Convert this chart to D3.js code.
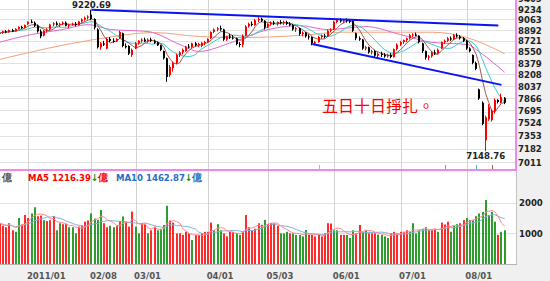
<!DOCTYPE html>
<html>
<head>
<meta charset="utf-8">
<script src="https://cdn.jsdelivr.net/npm/d3@7"></script>
<style>
  body { margin: 0; background: #fff; }
</style>
</head>
<body>
<div id="chart"></div>
<script>
// daily candles (TAIEX, 2010/12 - 2011/08)
const opens = [8830,8845,8870,8855,8890,8870,8910,8940,8925,8990,
  9025,9010,8960,8870,8800,8880,8900,8980,9000,8975,
  8990,9010,8960,8980,8990,8970,9030,9060,9090,9140,
  9070,8900,8620,8680,8600,8750,8720,8710,8760,8840,
  8640,8640,8500,8600,8680,8720,8740,8710,8740,8720,
  8700,8650,8560,8450,8200,8300,8380,8500,8540,8560,
  8630,8620,8680,8650,8640,8690,8700,8760,8860,8900,
  8920,8900,8740,8790,8770,8760,8670,8660,8800,8950,
  8990,8970,9050,9070,9040,8930,8990,9010,8990,9020,
  9000,9020,8990,8970,8900,8920,8830,8850,8790,8780,
  8680,8700,8780,8800,8790,8880,8900,9020,9050,9030,
  9050,9040,9040,8840,8760,8740,8600,8620,8540,8560,
  8490,8520,8500,8480,8500,8470,8590,8660,8700,8730,
  8760,8810,8820,8800,8680,8560,8460,8480,8540,8520,
  8600,8700,8720,8760,8740,8810,8790,8760,8720,8600,
  8500,8380,7990,7800,7290,7570,7560,7680,7840,7800,7870];
const highs = [8860,8880,8890,8900,8910,8920,8950,8960,8980,9030,
  9060,9030,8980,8900,8890,8920,8990,9020,9030,9010,
  9030,9030,8990,9010,9020,9040,9080,9110,9130,9220.69,
  9080,8920,8700,8720,8770,8780,8760,8760,8880,8850,
  8680,8650,8600,8700,8730,8760,8770,8760,8770,8740,
  8710,8660,8570,8460,8350,8400,8520,8560,8600,8640,
  8670,8690,8700,8690,8700,8720,8760,8870,8920,8940,
  8960,8910,8800,8830,8810,8770,8700,8820,8970,9010,
  9030,9070,9100,9090,9050,9000,9030,9040,9030,9050,
  9040,9040,9020,8990,8940,8930,8870,8860,8820,8790,
  8720,8800,8820,8830,8900,8920,9040,9070,9080,9070,
  9080,9070,9060,8850,8790,8750,8640,8630,8580,8580,
  8540,8550,8530,8520,8530,8600,8680,8720,8740,8770,
  8830,8840,8850,8810,8690,8570,8500,8560,8580,8600,
  8710,8740,8780,8790,8830,8840,8810,8780,8730,8620,
  8510,8400,8000,7820,7620,7780,7710,7860,7850,7930,7880];
const lows = [8800,8830,8840,8850,8860,8865,8900,8910,8920,8970,
  9000,8940,8850,8760,8790,8850,8890,8950,8960,8940,
  8970,8950,8920,8960,8950,8960,9010,9040,9060,9050,
  8900,8600,8580,8640,8590,8700,8690,8700,8750,8620,
  8600,8500,8470,8590,8660,8690,8700,8690,8700,8670,
  8640,8560,8430,8100,8170,8250,8360,8470,8510,8550,
  8600,8610,8630,8620,8620,8650,8690,8750,8840,8870,
  8880,8720,8720,8750,8740,8650,8620,8620,8790,8930,
  8950,8960,9020,9020,8900,8920,8960,8970,8960,8980,
  8970,8970,8950,8880,8860,8800,8790,8770,8740,8650,
  8650,8690,8750,8760,8780,8860,8890,9000,9010,9000,
  9010,9000,8860,8730,8720,8580,8570,8520,8510,8470,
  8460,8470,8460,8460,8450,8460,8570,8640,8670,8700,
  8740,8780,8790,8680,8530,8430,8420,8460,8500,8510,
  8590,8670,8700,8720,8730,8770,8740,8700,8580,8540,
  8360,8270,7840,7490,7148.76,7550,7540,7650,7790,7790,7780];
const closes = [8845,8870,8855,8890,8870,8910,8940,8925,8972,9025,
  9010,8960,8870,8790,8880,8900,8980,9000,8975,8990,
  9010,8960,8980,8990,8970,9030,9060,9090,9110,9070,
  8930,8620,8680,8660,8750,8720,8710,8750,8860,8640,
  8620,8520,8580,8680,8720,8740,8710,8740,8720,8690,
  8650,8580,8450,8170,8320,8380,8500,8540,8580,8630,
  8620,8680,8650,8670,8690,8700,8750,8860,8900,8920,
  8900,8740,8790,8770,8760,8670,8660,8800,8950,8990,
  8970,9050,9070,9040,8930,8990,9010,8990,9020,9000,
  9020,8990,8970,8900,8920,8830,8850,8790,8780,8680,
  8700,8780,8800,8790,8880,8900,9020,9050,9030,9050,
  9040,9030,8880,8760,8740,8600,8620,8540,8560,8490,
  8520,8500,8480,8500,8470,8590,8660,8700,8730,8760,
  8810,8820,8800,8700,8560,8460,8480,8540,8520,8580,
  8700,8720,8760,8740,8810,8790,8760,8720,8600,8560,
  8380,8290,7860,7510,7600,7740,7690,7840,7810,7880,7800];

// volume in 億, and whether the bar is drawn red (1) or green (0)
const volumes = [1330,1250,1200,1330,1100,1050,1500,1290,1600,1500,
  1650,1850,1560,1580,1430,1400,1430,1560,1100,1330,
  1300,1300,1200,1200,1000,1220,1250,1380,1420,1650,
  1480,1440,1760,1330,1200,1250,1200,1250,1400,1550,
  1380,1220,1710,1220,1000,1330,1300,1000,1100,1220,
  1100,1150,1270,1900,1420,1350,1000,1000,950,1050,
  1000,780,950,950,1000,1050,1050,1350,1100,1300,
  1100,1000,900,1050,1050,1000,950,1050,1600,1200,
  1100,1150,1330,1280,1440,1300,1330,1330,1250,1000,
  1000,1050,1000,1000,950,950,900,1110,950,950,
  900,950,900,1000,1330,1320,1100,1100,950,950,
  950,850,1100,1000,1275,1050,1100,1000,1000,1000,
  960,950,900,850,1000,1050,1000,1050,1050,1100,
  1050,1330,1000,1100,1150,1200,1100,1100,1150,1050,
  1350,1290,1380,1050,1250,1300,1330,1430,1500,1440,
  1440,1560,1650,1700,2090,1600,1700,1380,950,1050,1100];
const volUp = [1,1,1,1,1,0,0,1,1,1, 0,0,1,1,0,1,1,1,0,0,
  1,1,0,0,0,1,1,1,1,0, 0,0,0,1,1,0,0,1,1,0,
  1,1,1,0,0,1,1,0,1,1, 0,0,0,0,1,1,1,1,1,1,
  1,0,1,1,1,1,1,1,0,0, 0,1,1,1,1,0,0,1,1,1,
  1,1,1,0,0,1,1,1,1,0, 0,0,1,0,0,0,0,0,1,1,
  1,1,1,1,1,1,0,0,1,1, 0,0,0,1,1,0,0,1,1,1,
  0,0,0,0,1,1,1,1,1,1, 0,0,0,0,0,0,1,1,1,0,
  1,1,1,0,0,0,1,1,0,0, 0,0,0,0,0,0,0,0,1,0,0];

// longer averages: [day index, value]
const ma20Points = [[0,8700],[10,8820],[20,8900],[28,8978],[35,8900],[47,8866],[57,8663],[63,8555],
  [74,8705],[85,8898],[95,8962],[104,8898],[116,8946],[127,8819],[137,8695],[148,8663],[153,8510],[160,8240]];
const ma60Points = [[0,8434],[30,8741],[49,8850],[63,8788],[76,8772],[95,8804],[108,8856],[127,8856],
  [137,8856],[148,8772],[160,8520]];

// axis labels
const priceTicks = [7011,7182,7353,7524,7695,7866,8037,8208,8379,8550,8721,8892,9063,9234,9405];
const volTicks = [1000, 2000];
const dateLabels = ["2011/01","02/08","03/01","04/01","05/03","06/01","07/01","08/01"];
const dateIndex = [9,29,43,66,85,106,127,148];

// drawn trend lines: [startIndex, startValue, endIndex, endValue]
const trendLines = [[29, 9220.69, 158, 8965], [99, 8670, 159, 8055]];
// little marks at the foot of the price panel
const markIndex = [101, 141, 151, 156];
const markLine = ["ma60", "ma20", "ma10", "ma5"];

const colors = { up: "#ff0000", down: "#000000", volUp: "#ff2b2b", volDown: "#2f9c2f",
  ma5: "#9e5a50", ma10: "#3ccaca", ma20: "#e466cc", ma60: "#f4a27c",
  vma5: "#ff8a8a", vma10: "#7fb0e0", trend: "#0a14f0", pink: "#ee88ee" };

const W = 550, H = 281;
const plotRight = 516, priceBottom = 170, volBottom = 264;
const N = closes.length;
const labelFont = "'DejaVu Sans Condensed', 'DejaVu Sans', sans-serif";

const svg = d3.select("#chart").append("svg")
  .attr("width", W).attr("height", H)
  .style("font-family", labelFont);

svg.append("rect").attr("width", W).attr("height", H).attr("fill", "#fff");
svg.append("rect").attr("x", plotRight).attr("y", 0).attr("width", W - plotRight).attr("height", H).attr("fill", "#f0f0f0");
svg.append("rect").attr("x", 0).attr("y", volBottom).attr("width", W).attr("height", H - volBottom).attr("fill", "#f0f0f0");

const x = d3.scaleLinear().domain([0, N - 1]).range([0, 504.6]);
const y = d3.scaleLog().domain([7011, 9234]).range([162, 9]);
const yv = d3.scaleLinear().domain([0, 2000]).range([volBottom, 202.7]);
const px = i => Math.round(x(i));

// grid
const grid = svg.append("g");
grid.selectAll(".hp").data(priceTicks).join("line")
  .attr("x1", 0).attr("x2", plotRight)
  .attr("y1", d => Math.round(y(d)) + 0.5).attr("y2", d => Math.round(y(d)) + 0.5)
  .attr("stroke", "#e2e2e2");
grid.selectAll(".hv").data(volTicks).join("line")
  .attr("x1", 0).attr("x2", plotRight)
  .attr("y1", d => Math.round(yv(d)) + 0.5).attr("y2", d => Math.round(yv(d)) + 0.5)
  .attr("stroke", "#e2e2e2");
grid.selectAll(".vd").data(dateIndex).join("line")
  .attr("x1", d => px(d) + 0.5).attr("x2", d => px(d) + 0.5)
  .attr("y1", 0).attr("y2", volBottom)
  .attr("stroke", "#d2d2d2");

// moving averages of the price
function rolling(arr, k) {
  return arr.map((_, i) => d3.mean(arr.slice(Math.max(0, i - k + 1), i + 1)));
}
const line = d3.line().x((d, i) => x(i)).y(d => y(d));
const lineP = d3.line().x(d => x(d[0])).y(d => y(d[1])).curve(d3.curveMonotoneX);

svg.append("path").attr("d", lineP(ma60Points)).attr("fill", "none").attr("stroke", colors.ma60);
svg.append("path").attr("d", lineP(ma20Points)).attr("fill", "none").attr("stroke", colors.ma20);
svg.append("path").attr("d", line(rolling(closes, 10))).attr("fill", "none").attr("stroke", colors.ma10);
svg.append("path").attr("d", line(rolling(closes, 5))).attr("fill", "none").attr("stroke", colors.ma5);

// candles
const candles = svg.append("g").selectAll("g").data(d3.range(N)).join("g");
candles.append("line")
  .attr("x1", i => px(i) - 0.5).attr("x2", i => px(i) - 0.5)
  .attr("y1", i => y(highs[i])).attr("y2", i => y(lows[i]))
  .attr("stroke", i => closes[i] > opens[i] ? colors.up : colors.down);
candles.append("rect")
  .attr("x", i => px(i) - 1).attr("width", 2)
  .attr("y", i => y(Math.max(opens[i], closes[i])))
  .attr("height", i => Math.max(1, y(Math.min(opens[i], closes[i])) - y(Math.max(opens[i], closes[i]))))
  .attr("fill", i => closes[i] > opens[i] ? colors.up : colors.down);

// trend lines
svg.append("g").selectAll("line").data(trendLines).join("line")
  .attr("x1", d => x(d[0])).attr("y1", d => y(d[1]))
  .attr("x2", d => x(d[2])).attr("y2", d => y(d[3]))
  .attr("stroke", colors.trend).attr("stroke-width", 2);

// marks at panel foot
svg.append("g").selectAll("line").data(markIndex).join("line")
  .attr("x1", d => px(d) + 0.5).attr("x2", d => px(d) + 0.5)
  .attr("y1", 165).attr("y2", priceBottom)
  .attr("stroke", (d, i) => colors[markLine[i]]);

// high / low labels
const hiIdx = highs.indexOf(d3.max(highs));
const loIdx = lows.indexOf(d3.min(lows));
svg.append("text").attr("x", x(hiIdx)).attr("y", 7.5).attr("text-anchor", "middle")
  .attr("font-size", 9.5).attr("font-weight", "bold").attr("fill", "#222")
  .text(d3.format(".2f")(highs[hiIdx]));
svg.append("text").attr("x", x(loIdx)).attr("y", 158.5).attr("text-anchor", "middle")
  .attr("font-size", 9.5).attr("font-weight", "bold").attr("fill", "#222")
  .text(d3.format(".2f")(lows[loIdx]));

// note
svg.append("text").attr("x", 322).attr("y", 112)
  .attr("font-family", "'Noto Sans CJK TC', sans-serif").attr("font-size", 16)
  .attr("fill", "#ff0000").text("五日十日掙扎。");

// panel border
svg.append("line").attr("x1", 0).attr("x2", plotRight + 1).attr("y1", priceBottom).attr("y2", priceBottom)
  .attr("stroke", colors.pink).attr("stroke-width", 2);
svg.append("line").attr("x1", plotRight).attr("x2", plotRight).attr("y1", 0).attr("y2", priceBottom)
  .attr("stroke", colors.pink).attr("stroke-width", 2);

// price axis
const yAxis = svg.append("g").attr("transform", `translate(${plotRight},0)`)
  .call(d3.axisRight(y).tickValues(priceTicks).tickSize(0).tickPadding(2).tickFormat(d3.format("d")));
yAxis.select(".domain").remove();
yAxis.selectAll("text").attr("font-size", 9.5).attr("font-weight", "bold").attr("fill", "#222")
  .style("font-family", labelFont);

// volume legend (the first item runs off the left edge, as in the original)
const leg0 = svg.append("text").attr("x", 12).attr("y", 180.5).attr("text-anchor", "end")
  .attr("font-size", 9.5).attr("font-weight", "bold").attr("fill", "#555");
leg0.append("tspan").text("成交量 1108.52");
leg0.append("tspan").attr("fill", "#333").text("↓");
leg0.append("tspan").text("億");
const legend = svg.append("text").attr("y", 180.5).attr("font-size", 9.5).attr("font-weight", "bold");
legend.append("tspan").attr("x", 28).attr("fill", "#ff0000").text("MA5 1216.39");
legend.append("tspan").attr("fill", "#118811").text("↓");
legend.append("tspan").attr("fill", "#ff0000").text("億");
legend.append("tspan").attr("x", 116).attr("fill", "#1f6fc6").text("MA10 1462.87");
legend.append("tspan").attr("fill", "#118811").text("↓");
legend.append("tspan").attr("fill", "#1f6fc6").text("億");

// volume bars
svg.append("g").selectAll("rect").data(volumes).join("rect")
  .attr("x", (d, i) => px(i) - 1).attr("width", 2)
  .attr("y", d => yv(d)).attr("height", d => volBottom - yv(d))
  .attr("fill", (d, i) => volUp[i] ? colors.volUp : colors.volDown);

const lineV = d3.line().x((d, i) => x(i)).y(d => yv(d));
svg.append("path").attr("d", lineV(rolling(volumes, 10))).attr("fill", "none").attr("stroke", colors.vma10);
svg.append("path").attr("d", lineV(rolling(volumes, 5))).attr("fill", "none").attr("stroke", colors.vma5);

// volume panel border
svg.append("line").attr("x1", plotRight + 0.5).attr("x2", plotRight + 0.5).attr("y1", priceBottom + 1).attr("y2", volBottom)
  .attr("stroke", "#c4c4c4");
svg.append("line").attr("x1", 0).attr("x2", plotRight + 1).attr("y1", volBottom + 0.5).attr("y2", volBottom + 0.5)
  .attr("stroke", "#b4b4b4");

// volume axis
const vAxis = svg.append("g").attr("transform", `translate(${plotRight},0)`)
  .call(d3.axisRight(yv).tickValues(volTicks).tickSize(0).tickPadding(3).tickFormat(d3.format("d")));
vAxis.select(".domain").remove();
vAxis.selectAll("text").attr("font-size", 9.5).attr("font-weight", "bold").attr("fill", "#222")
  .style("font-family", labelFont);

// date axis
const xAxis = svg.append("g").attr("transform", `translate(0,${volBottom})`)
  .call(d3.axisBottom(x).tickValues(dateIndex).tickSize(0).tickPadding(8)
    .tickFormat((d, i) => dateLabels[i]));
xAxis.select(".domain").remove();
xAxis.selectAll("text").attr("text-anchor", "start").attr("dx", -2)
  .attr("font-size", 9.5).attr("font-weight", "bold").attr("fill", "#555")
  .style("font-family", labelFont);
</script>
</body>
</html>
